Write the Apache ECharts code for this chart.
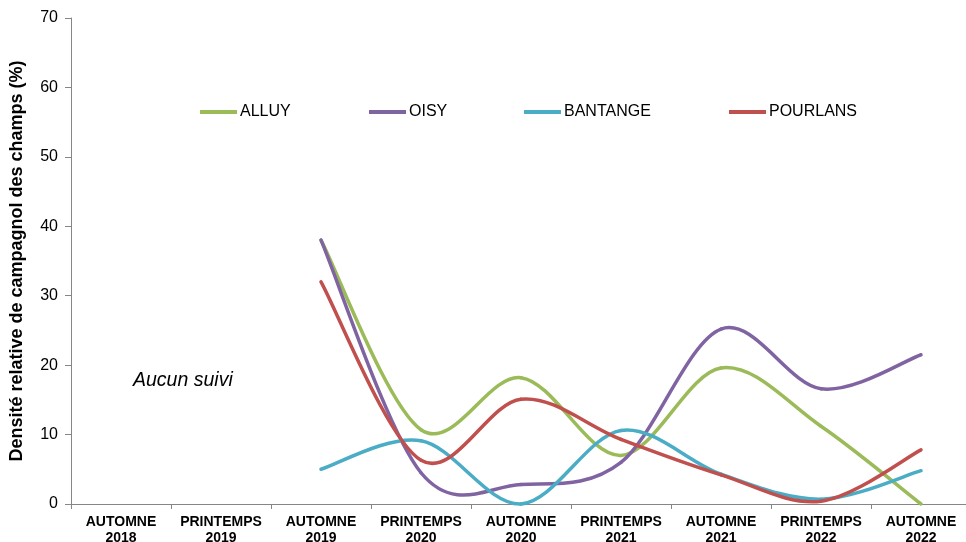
<!DOCTYPE html>
<html><head><meta charset="utf-8">
<script src="https://cdn.jsdelivr.net/npm/echarts@6/dist/echarts.min.js"></script>
<style>html,body{margin:0;padding:0;background:#fff;overflow:hidden}#c{width:966px;height:542px}</style>
</head><body><div id="c"></div>
<script>
const categories = ['AUTOMNE\n2018','PRINTEMPS\n2019','AUTOMNE\n2019','PRINTEMPS\n2020','AUTOMNE\n2020','PRINTEMPS\n2021','AUTOMNE\n2021','PRINTEMPS\n2022','AUTOMNE\n2022'];
const alluy    = [null, null, 38, 10.7, 18.2, 7, 19.6, 11.2, 0];
const oisy     = [null, null, 38, 4.5, 2.8, 6, 25.2, 16.6, 21.5];
const bantange = [null, null, 5, 9.1, 0, 10.6, 4.3, 0.7, 4.8];
const pourlans = [null, null, 32, 6.3, 15.1, 9.3, 4.2, 0.4, 7.8];
const seriesNames = ['ALLUY','OISY','BANTANGE','POURLANS'];
const seriesColors = ['#9BBB59','#8064A2','#4BACC6','#C0504D'];
const seriesData = [alluy, oisy, bantange, pourlans];
const legendLefts = [200, 369, 524, 729];

const chart = echarts.init(document.getElementById('c'));
const font = 'Liberation Sans, Arial, sans-serif';

// Excel-like smoothed line: Catmull-Rom style cubic bezier segments computed in pixel space
function makeRender(values, color) {
  return function (params, api) {
    const i = api.value(0);
    const j = i + 1;
    if (values[i] == null || j >= values.length || values[j] == null) return null;
    const p = k => api.coord([k, values[k]]);
    const p1 = p(i), p2 = p(j);
    const p0 = (i - 1 >= 0 && values[i - 1] != null) ? p(i - 1) : p1;
    const p3 = (j + 1 < values.length && values[j + 1] != null) ? p(j + 1) : p2;
    const t = 1 / 6;
    return {
      type: 'bezierCurve',
      shape: {
        x1: p1[0], y1: p1[1], x2: p2[0], y2: p2[1],
        cpx1: p1[0] + (p2[0] - p0[0]) * t, cpy1: p1[1] + (p2[1] - p0[1]) * t,
        cpx2: p2[0] - (p3[0] - p1[0]) * t, cpy2: p2[1] - (p3[1] - p1[1]) * t
      },
      style: {stroke: color, lineWidth: 3.5, fill: null, lineCap: 'round'}
    };
  };
}

chart.setOption({
  animation: false,
  grid: {left: 71, right: -5, top: 18, bottom: 38, containLabel: false, outerBoundsMode: 'none'},
  legend: seriesNames.map((n, i) => ({
    data: [n], left: legendLefts[i], top: 104, padding: 0, icon: 'rect', itemWidth: 37, itemHeight: 4, itemGap: 0,
    textStyle: {fontFamily: font, fontSize: 16, color: '#000', padding: [0,0,0,-2]}
  })),
  xAxis: {
    type: 'category', data: categories, boundaryGap: true,
    axisLine: {lineStyle: {color: '#868686', width: 1}},
    axisTick: {show: true, length: 5, lineStyle: {color: '#868686'}},
    axisLabel: {fontFamily: font, fontSize: 14, fontWeight: 'bold', color: '#000', margin: 10, lineHeight: 16, interval: 0}
  },
  yAxis: {
    type: 'value', min: 0, max: 70, interval: 10,
    name: 'Densité relative de campagnol des champs (%)', nameLocation: 'middle', nameGap: 45,
    nameTextStyle: {fontFamily: font, fontSize: 18, fontWeight: 'bold', color: '#000'},
    axisLine: {show: true, lineStyle: {color: '#868686'}},
    axisTick: {show: true, length: 6, lineStyle: {color: '#868686'}},
    splitLine: {show: false},
    axisLabel: {fontFamily: font, fontSize: 16, color: '#000', margin: 13}
  },
  series: seriesNames.map((n, i) => ({
    name: n, type: 'custom', renderItem: makeRender(seriesData[i], seriesColors[i]),
    data: seriesData[i].map((v, k) => [k, v]), encode: {x: 0, y: 1},
    itemStyle: {color: seriesColors[i]}, clip: false
  })),
  graphic: [{
    type: 'text', left: 133, top: 371,
    style: {text: 'Aucun suivi', font: 'italic 19.5px Liberation Sans, Arial, sans-serif', fill: '#000'}
  }]
});
</script></body></html>
